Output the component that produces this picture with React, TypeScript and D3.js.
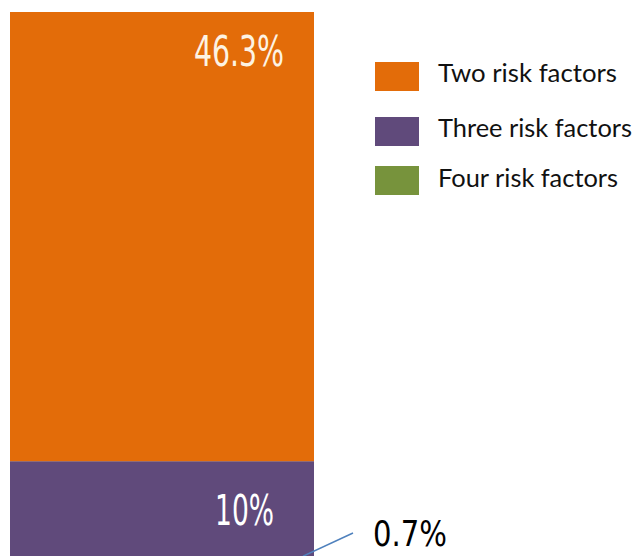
import * as d3 from 'd3'
import { useEffect, useRef } from 'react'

// Chart data
const categories = ['All patients']
const seriesNames = ['Four risk factors', 'Three risk factors', 'Two risk factors']
const seriesValues = [0.7, 10, 46.3]
const seriesColors = ['#77933C', '#604A7B', '#E36C09']
const valueLabels = ['0.7%', '10%', '46.3%']
const legendOrder = ['Two risk factors', 'Three risk factors', 'Four risk factors']

const W = 637
const H = 556

export default function App() {
  const svgRef = useRef<SVGSVGElement>(null)

  useEffect(() => {
    if (!svgRef.current) return
    const svg = d3.select(svgRef.current)
    svg.selectAll('*').remove()

    svg.append('rect').attr('width', W).attr('height', H).attr('fill', '#ffffff')

    const total = d3.sum(seriesValues)

    const x = d3.scaleBand<string>().domain(categories).range([10, 314]).padding(0)
    const y = d3.scaleLinear().domain([0, total]).range([565, 12])

    // stacked segments (bottom to top)
    const stack = seriesValues.map((v, i) => {
      const y0 = d3.sum(seriesValues.slice(0, i))
      return { name: seriesNames[i], value: v, y0, y1: y0 + v, color: seriesColors[i], label: valueLabels[i] }
    })

    const g = svg.append('g')
    g.selectAll('rect.seg')
      .data(stack)
      .enter()
      .append('rect')
      .attr('class', 'seg')
      .attr('x', x(categories[0]) as number)
      .attr('width', x.bandwidth())
      .attr('y', (d) => y(d.y1))
      .attr('height', (d) => y(d.y0) - y(d.y1))
      .attr('fill', (d) => d.color)

    const numFont = '"DejaVu Sans Condensed", "Liberation Sans Narrow", sans-serif'

    // labels inside the bar
    const inside = [
      { seg: stack[2], xEnd: 284, base: 66, len: 90, fill: '#FDF3E3' },
      { seg: stack[1], xEnd: 274, base: 525, len: 59, fill: '#ffffff' },
    ]
    inside.forEach((l) => {
      g.append('text')
        .attr('x', l.xEnd - l.len)
        .attr('y', l.base)
        .attr('font-family', numFont)
        .attr('font-size', 42)
        .attr('fill', l.fill)
        .attr('textLength', l.len)
        .attr('lengthAdjust', 'spacingAndGlyphs')
        .text(l.seg.label)
    })

    // leader line + outside label for the small segment
    g.append('line')
      .attr('x1', 303)
      .attr('y1', y(stack[0].y1) - 2)
      .attr('x2', 353)
      .attr('y2', 533)
      .attr('stroke', '#4F81BD')
      .attr('stroke-width', 1.5)

    g.append('text')
      .attr('x', 373)
      .attr('y', 546)
      .attr('font-family', numFont)
      .attr('font-size', 36)
      .attr('fill', '#000000')
      .attr('textLength', 74)
      .attr('lengthAdjust', 'spacingAndGlyphs')
      .text(stack[0].label)

    // legend
    const legendTops = [62, 117, 166]
    const legendBases = [82, 137, 187]
    const legendLens = [179, 194, 180]
    const legend = svg.append('g')
    legendOrder.forEach((name, i) => {
      const idx = seriesNames.indexOf(name)
      legend
        .append('rect')
        .attr('x', 375)
        .attr('y', legendTops[i])
        .attr('width', 44)
        .attr('height', 29)
        .attr('fill', seriesColors[idx])
      legend
        .append('text')
        .attr('x', 438)
        .attr('y', legendBases[i])
        .attr('font-family', 'Lato, "Open Sans", sans-serif')
        .attr('font-size', 25)
        .attr('fill', '#111111')
        .attr('textLength', legendLens[i])
        .attr('lengthAdjust', 'spacingAndGlyphs')
        .text(name)
    })
  }, [])

  return (
    <svg
      ref={svgRef}
      width={W}
      height={H}
      style={{ position: 'absolute', left: 0, top: 0, display: 'block' }}
    />
  )
}
